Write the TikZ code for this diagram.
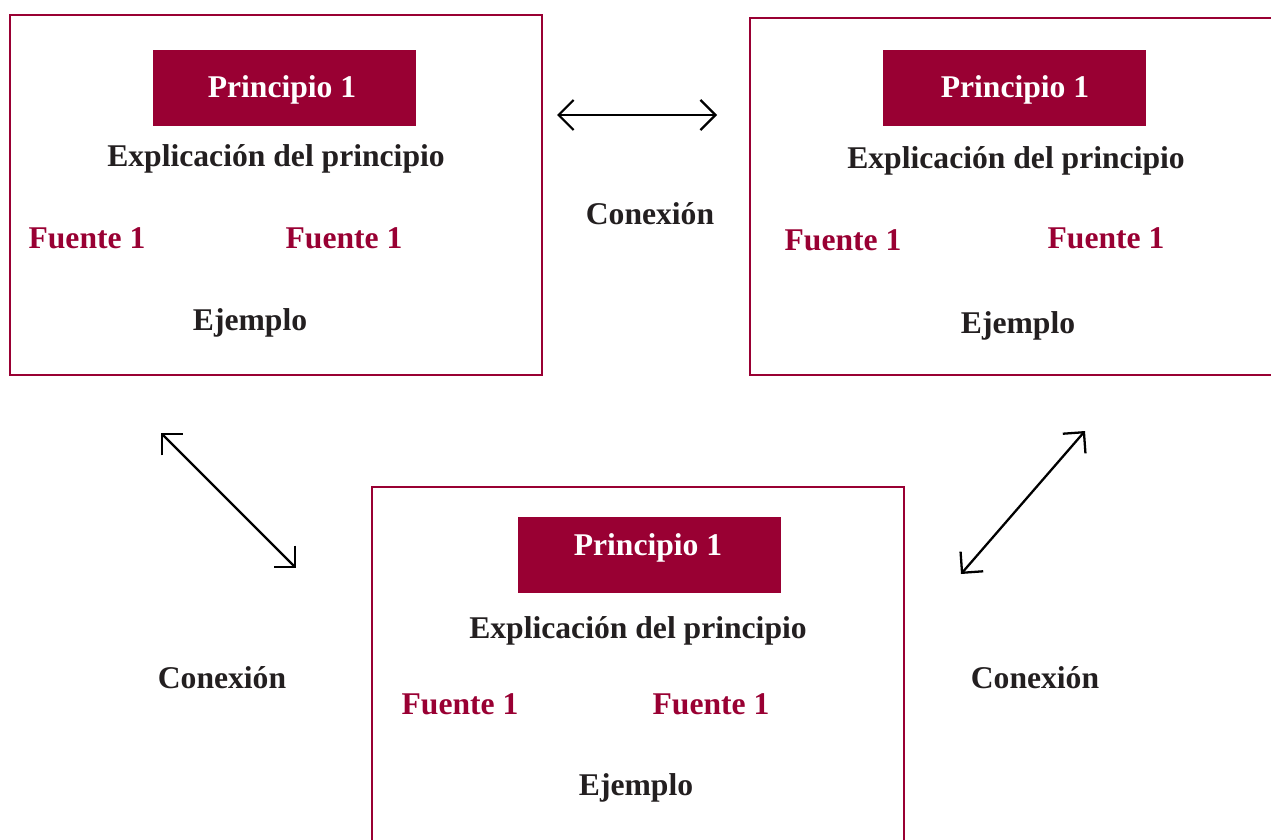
\documentclass[tikz,border=0pt]{standalone}
\usepackage{fontspec}
\setmainfont{Liberation Serif}
\usetikzlibrary{arrows.meta}
\definecolor{vino}{RGB}{153,0,51}
\definecolor{tinta}{RGB}{35,31,32}

\begin{document}
\begin{tikzpicture}[x=0.02cm,y=-0.02cm,
    marco/.style={draw=vino,line width=1.3pt,inner sep=0pt},
    cabecera/.style={fill=vino,inner sep=0pt,minimum width=5.26cm,minimum height=1.52cm},
    titulo/.style={anchor=base,text=white,font=\fontsize{18}{20}\selectfont\bfseries},
    texto/.style={anchor=base,text=tinta,font=\fontsize{18}{20}\selectfont\bfseries},
    fuente/.style={anchor=base,text=vino,font=\fontsize{18}{20}\selectfont\bfseries},
    flecha/.style={{Straight Barb[length=3mm,width=6mm]}-{Straight Barb[length=3mm,width=6mm]},line width=1.3pt}]

    \useasboundingbox (0,0) rectangle (1271,839);
    \clip (0,0) rectangle (1271,839);

    % cajas
    \node[marco,minimum width=10.64cm,minimum height=7.2cm] (caja1) at (276,195) {};
    \node[marco,minimum width=10.8cm,minimum height=7.14cm] (caja2) at (1020,196.5) {};
    \node[marco,minimum width=10.64cm,minimum height=7.86cm] (caja3) at (638,683.5) {};

    \node[cabecera] (cab1) at (284.5,88) {};
    \node[cabecera] (cab2) at (1014.5,88) {};
    \node[cabecera] (cab3) at (649.5,555) {};

    \node[titulo] (prin1) at (282,97) {Principio 1};
    \node[titulo] (prin2) at (1015,97) {Principio 1};
    \node[titulo] (prin3) at (648,555) {Principio 1};

    \node[texto] (expl1) at (276,166) {Explicación del principio};
    \node[texto] (expl2) at (1016,168) {Explicación del principio};
    \node[texto] (expl3) at (638,638) {Explicación del principio};

    \node[fuente] (fa1) at (87,248) {Fuente 1};
    \node[fuente] (fb1) at (344,248) {Fuente 1};
    \node[fuente] (fa2) at (843,250) {Fuente 1};
    \node[fuente] (fb2) at (1106,248) {Fuente 1};
    \node[fuente] (fa3) at (460,714) {Fuente 1};
    \node[fuente] (fb3) at (711,714) {Fuente 1};

    \node[texto] (ej1) at (250,330) {Ejemplo};
    \node[texto] (ej2) at (1018,333) {Ejemplo};
    \node[texto] (ej3) at (636,795) {Ejemplo};

    % conexiones
    \node[texto] (con1) at (650,224) {Conexión};
    \node[texto] (con2) at (222,688) {Conexión};
    \node[texto] (con3) at (1035,688) {Conexión};

    \coordinate (h1) at (557,115);
    \coordinate (h2) at (717,115);
    \coordinate (d1) at (161,433);
    \coordinate (d2) at (296,568);
    \coordinate (e1) at (1085,431);
    \coordinate (e2) at (961,574);

    \draw[flecha] (h1) -- (h2);
    \draw[flecha] (d1) -- (d2);
    \draw[flecha] (e1) -- (e2);
\end{tikzpicture}
\end{document}
